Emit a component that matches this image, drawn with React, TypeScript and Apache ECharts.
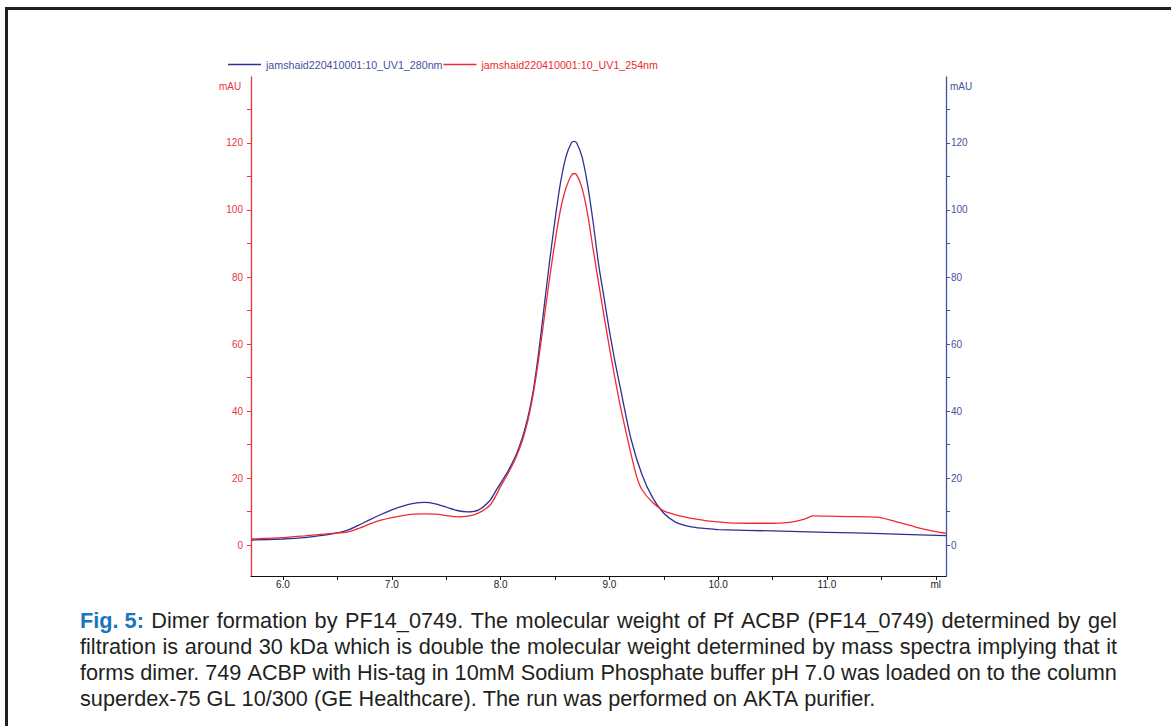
import React, { useEffect, useRef } from "react";
import * as echarts from "echarts";

// ---- data ----
const seriesNames = ["jamshaid220410001:10_UV1_280nm", "jamshaid220410001:10_UV1_254nm"];

const blueMl = [5.706, 6.0, 6.2, 6.4, 6.5, 6.6, 6.7, 6.8, 6.9, 7.0, 7.1, 7.2, 7.3, 7.4, 7.5, 7.6, 7.7, 7.8, 7.9, 7.95, 8.0, 8.05, 8.1, 8.15, 8.2, 8.25, 8.3, 8.35, 8.4, 8.45, 8.5, 8.55, 8.6, 8.65, 8.675, 8.7, 8.75, 8.8, 8.85, 8.9, 8.95, 9.0, 9.05, 9.1, 9.2, 9.3, 9.4, 9.5, 9.6, 9.7, 9.8, 9.9, 10.0, 10.5, 11.0, 11.5, 12.094];
const blueMau = [1.5, 1.8, 2.2, 3.0, 3.6, 4.5, 6.0, 7.6, 9.1, 10.5, 11.6, 12.4, 12.7, 12.3, 11.3, 10.3, 9.9, 10.5, 13.2, 15.8, 18.5, 21, 24, 27.5, 32, 38, 46, 57.5, 71, 84.5, 97, 108, 115.8, 120, 120.5, 120, 115.7, 107.5, 96.5, 84, 74, 64, 55, 47, 31.5, 21, 14, 9.5, 7, 5.8, 5.2, 4.9, 4.6, 4.2, 3.8, 3.4, 2.8];

const redMl = [5.706, 6.0, 6.2, 6.4, 6.5, 6.6, 6.7, 6.8, 6.9, 7.0, 7.1, 7.2, 7.3, 7.4, 7.5, 7.6, 7.7, 7.8, 7.9, 7.95, 8.0, 8.05, 8.1, 8.15, 8.2, 8.25, 8.3, 8.35, 8.4, 8.45, 8.5, 8.55, 8.6, 8.65, 8.675, 8.7, 8.75, 8.8, 8.85, 8.9, 8.95, 9.0, 9.05, 9.1, 9.2, 9.25, 9.3, 9.4, 9.5, 9.6, 9.7, 9.8, 9.9, 10.0, 10.1, 10.3, 10.5, 10.6, 10.7, 10.8, 10.87, 11.0, 11.2, 11.46, 11.6, 11.7, 11.8, 11.9, 12.0, 12.094];
const redMau = [1.8, 2.2, 2.7, 3.3, 3.6, 3.9, 5.0, 6.3, 7.4, 8.2, 8.8, 9.2, 9.3, 9.2, 8.8, 8.4, 8.6, 9.6, 11.8, 14.3, 17.5, 20.3, 23.3, 26.8, 31.2, 37, 45, 55.5, 67.5, 79.5, 90.5, 100, 106.5, 110.3, 110.9, 110.5, 106.4, 98.8, 88.4, 78.4, 68.5, 59, 50, 41.5, 27, 20.5, 16.5, 12.6, 10.2, 9.1, 8.3, 7.7, 7.2, 6.9, 6.6, 6.5, 6.5, 6.6, 7.0, 7.8, 8.7, 8.6, 8.5, 8.3, 7.3, 6.4, 5.5, 4.7, 4.0, 3.5];

const xTickValues = [6, 6.5, 7, 7.5, 8, 8.5, 9, 9.5, 10, 10.5, 11, 11.5, 12];
const xLabelValues = [6, 7, 8, 9, 10, 11, 12];
const yTickValues = [0, 10, 20, 30, 40, 50, 60, 70, 80, 90, 100, 110, 120, 130];
const yLabelValues = [0, 20, 40, 60, 80, 100, 120];

const X_MIN = 5.706;
const X_MAX = 12.094;
const Y_MIN = -9.25;
const Y_MAX = 139.7;

const RED = "#ee2a33";
const RED_AXIS = "#e8363e";
const BLUE = "#2e3192";
const BLUE_AXIS = "#4551a0";
const FONT = "'Liberation Sans', Arial, sans-serif";

const captionLabel = "Fig. 5:";
const captionLines = [
  "Dimer formation by PF14_0749. The molecular weight of Pf ACBP (PF14_0749) determined by gel",
  "filtration is around 30 kDa which is double the molecular weight determined by mass spectra implying that it",
  "forms dimer. 749 ACBP with His-tag in 10mM Sodium Phosphate buffer pH 7.0 was loaded on to the column",
  "superdex-75 GL 10/300 (GE Healthcare). The run was performed on AKTA purifier.",
];

function Chart() {
  const ref = useRef<HTMLDivElement>(null);
  useEffect(() => {
    if (!ref.current) return;
    const chart = echarts.init(ref.current, null, { renderer: "svg" });
    const yAxisBase = (color: string, position: "left" | "right", margin: number) => ({
      type: "value",
      position,
      min: Y_MIN,
      max: Y_MAX,
      axisLine: { show: true, onZero: false, lineStyle: { color, width: 1.3 } },
      axisTick: { show: true, inside: false, length: 4, customValues: yTickValues, lineStyle: { color, width: 1 } },
      axisLabel: { show: true, customValues: yLabelValues, color, fontSize: 10, fontFamily: FONT, margin },
      splitLine: { show: false },
    });
    chart.setOption({
      animation: false,
      textStyle: { fontFamily: FONT },
      legend: {
        left: 228,
        top: 59,
        icon: "rect",
        itemWidth: 33,
        itemHeight: 1.3,
        itemGap: 1,
        padding: 0,
        textStyle: { fontSize: 10.7, fontFamily: FONT },
        data: [
          { name: seriesNames[0], textStyle: { color: BLUE_AXIS } },
          { name: seriesNames[1], textStyle: { color: RED } },
        ],
      },
      grid: { left: 251, right: 225, top: 77, bottom: 24, containLabel: false },
      xAxis: {
        type: "value",
        min: X_MIN,
        max: X_MAX,
        axisLine: { show: true, onZero: false, lineStyle: { color: "#111", width: 1.2 } },
        axisTick: { show: true, length: 4, customValues: xTickValues, lineStyle: { color: "#111" } },
        axisLabel: {
          show: true,
          customValues: xLabelValues,
          fontSize: 10,
          color: "#222",
          fontFamily: FONT,
          margin: 3,
          formatter: (v: number) => (v >= 11.99 ? "ml" : v.toFixed(1)),
        },
        splitLine: { show: false },
      },
      yAxis: [yAxisBase(RED_AXIS, "left", 8), yAxisBase(BLUE_AXIS, "right", 5)],
      graphic: [
        { type: "text", left: 219, top: 81, style: { text: "mAU", fill: RED_AXIS, fontSize: 10, fontFamily: FONT } },
        { type: "text", left: 950, top: 81, style: { text: "mAU", fill: BLUE_AXIS, fontSize: 10, fontFamily: FONT } },
      ],
      series: [
        {
          name: seriesNames[0],
          type: "line",
          yAxisIndex: 1,
          symbol: "none",
          smooth: 0.25,
          lineStyle: { color: BLUE, width: 1.3 },
          itemStyle: { color: BLUE },
          data: blueMl.map((x, i) => [x, blueMau[i]]),
        },
        {
          name: seriesNames[1],
          type: "line",
          yAxisIndex: 0,
          symbol: "none",
          smooth: 0.25,
          lineStyle: { color: RED, width: 1.3 },
          itemStyle: { color: RED },
          data: redMl.map((x, i) => [x, redMau[i]]),
        },
      ],
    });
    return () => chart.dispose();
  }, []);
  return <div ref={ref} style={{ position: "absolute", left: 0, top: 0, width: 1171, height: 600 }} />;
}

export default function App() {
  return (
    <div style={{ position: "absolute", left: 0, top: 0, width: 1171, height: 726, overflow: "hidden", background: "#fff" }}>
      <div
        style={{
          position: "absolute",
          left: 5,
          top: 7,
          width: 1200,
          height: 760,
          borderLeft: "3px solid #231f20",
          borderTop: "3px solid #231f20",
          boxSizing: "border-box",
        }}
      />
      <Chart />
      <div
        style={{
          position: "absolute",
          left: 80,
          top: 608,
          width: 1037,
          fontFamily: FONT,
          fontSize: 21.7,
          lineHeight: "26px",
          color: "#231f20",
        }}
      >
        {captionLines.map((line, i) => (
          <div
            key={i}
            style={{
              whiteSpace: "nowrap",
              display: "flex",
              justifyContent: i < captionLines.length - 1 ? "space-between" : "flex-start",
            }}
          >
            {i === 0 && <b style={{ color: "#1b75bc" }}>{captionLabel}</b>}
            {line.split(" ").map((w, j) => (
              <span key={j} style={{ marginRight: i === captionLines.length - 1 ? "0.278em" : 0 }}>
                {w}
              </span>
            ))}
          </div>
        ))}
      </div>
    </div>
  );
}
